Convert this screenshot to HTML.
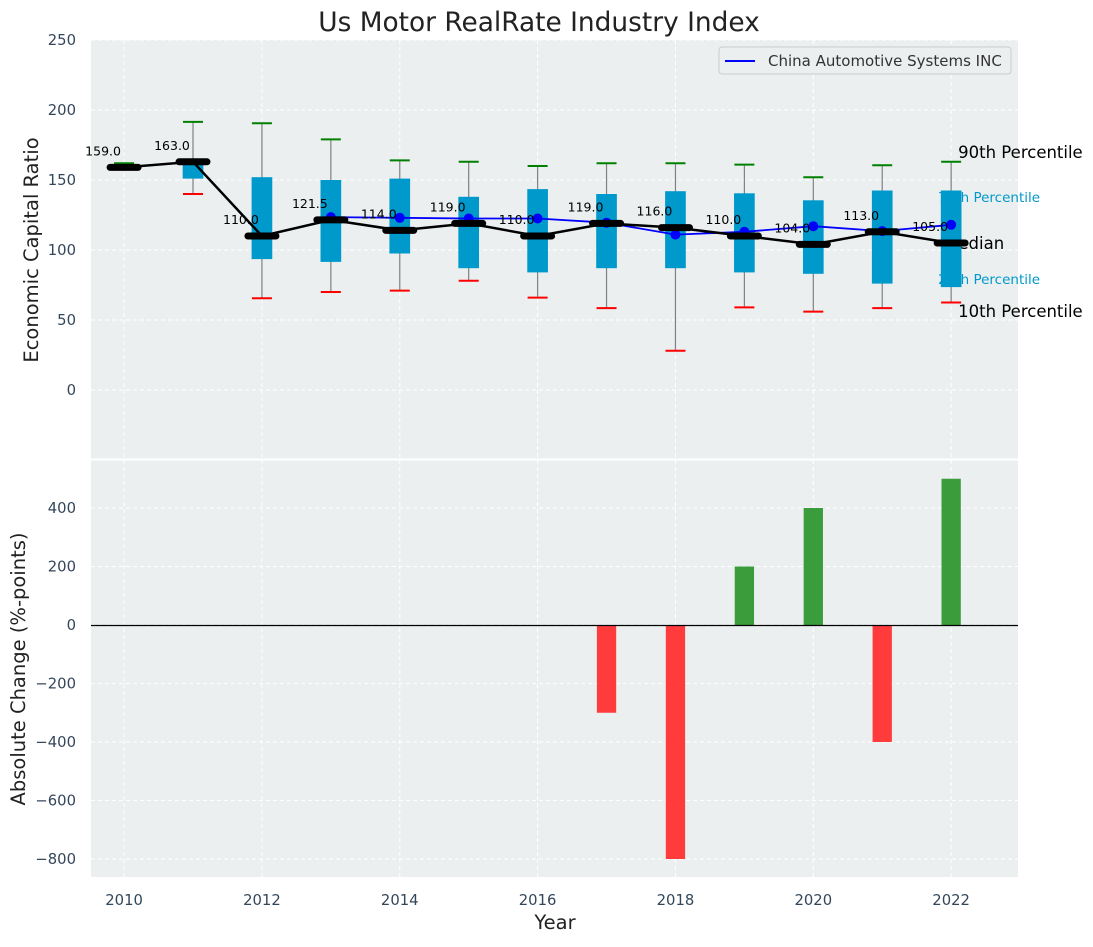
<!DOCTYPE html>
<html><head><meta charset="utf-8"><style>
body{margin:0;background:#fff;font-family:"Liberation Sans","DejaVu Sans",sans-serif}
</style></head><body>
<svg id="c" width="1093" height="942" xmlns="http://www.w3.org/2000/svg" font-family="DejaVu Sans, Liberation Sans, sans-serif"></svg>
<script>
const years=[2010,2011,2012,2013,2014,2015,2016,2017,2018,2019,2020,2021,2022];
const medians=[159,163,110,121.5,114,119,110,119,116,110,104,113,105];
const q1=[159,151,93.5,91.5,97.5,87,84,87,87,84,83,76,73.5];
const q3=[159,163,152,150,151,138,143.5,140,142,140.5,135.5,142.5,142.5];
const p10=[159,140,65.5,70,71,78,66,58.5,28,59,56,58.5,62.5];
const p90=[162,191.5,190.5,179,164,163,160,162,162,161,152,160.5,163];
const compYears=[2013,2014,2015,2016,2017,2018,2019,2020,2021,2022];
const compVals=[123.5,123,122.5,122.5,119.5,111,113,117,113.5,118];
const chgYears=[2017,2018,2019,2020,2021,2022];
const chgVals=[-300,-800,200,400,-400,500];
const topTicks=[0,50,100,150,200,250];
const botTicks=[-800,-600,-400,-200,0,200,400];
const xTicks=[2010,2012,2014,2016,2018,2020,2022];

const svg=document.getElementById('c');
const NS='http://www.w3.org/2000/svg';
function el(t,a,p){const e=document.createElementNS(NS,t);for(const k in a)e.setAttribute(k,a[k]);(p||svg).appendChild(e);return e;}
const L=91,R=1018;
const X=v=>L+(v-2009.52)*(R-L)/(2022.97-2009.52);
const Y1=v=>390-v*1.4;
const Y2=v=>625-v*0.2925;
const T1=40,B1=459,T2=460,B2=877;

const bg1=el('rect',{x:L,y:T1,width:R-L,height:B1-T1,fill:'#eceff0'});


const bg2=el('rect',{x:L,y:T2,width:R-L,height:B2-T2,fill:'#eceff0'});



xTicks.forEach(t=>{
  el('line',{x1:X(t),x2:X(t),y1:T1,y2:B1,stroke:'#fff','stroke-dasharray':'4,3'});
  el('line',{x1:X(t),x2:X(t),y1:T2,y2:B2,stroke:'#fff','stroke-dasharray':'4,3'});
  const tx=el('text',{x:X(t),y:905,'text-anchor':'middle','font-size':14.8,fill:'#34465a'});tx.textContent=t;
  
  
});
topTicks.forEach(t=>{
  el('line',{x1:L,x2:R,y1:Y1(t),y2:Y1(t),stroke:'#fff','stroke-dasharray':'4,3'});
  const tx=el('text',{x:76,y:Y1(t)+5,'text-anchor':'end','font-size':14.8,fill:'#34465a'});tx.textContent=t;
  
  
});
botTicks.forEach(t=>{
  el('line',{x1:L,x2:R,y1:Y2(t),y2:Y2(t),stroke:'#fff','stroke-dasharray':'4,3'});
  const tx=el('text',{x:76,y:Y2(t)+5,'text-anchor':'end','font-size':14.8,fill:'#34465a'});tx.textContent=(t<0?'\u2212'+(-t):t);
  
  
});

const xr=X(2022);
[['90th Percentile',158,16.5,'#000',xr+7],['75th Percentile',202,13.5,'#0099cc',xr-13],['Median',249,16.5,'#000',xr-7],['25th Percentile',284,13.5,'#0099cc',xr-13],['10th Percentile',317,16.5,'#000',xr+7]].forEach(d=>{
  const tx=el('text',{x:d[4],y:d[1],'font-size':d[2],fill:d[3]});tx.textContent=d[0];
  
  
});

const bw=X(2010.15)-X(2009.85);
years.forEach((yr,i)=>{
  const g=el('g',{});
  
  
  const x=X(yr);
  el('line',{x1:x,x2:x,y1:Y1(p90[i]),y2:Y1(p10[i]),stroke:'#808080','stroke-width':1.2},g);
  if(q3[i]>q1[i]) el('rect',{x:x-bw/2,y:Y1(q3[i]),width:bw,height:Y1(q1[i])-Y1(q3[i]),fill:'#0099cc'},g);
  el('line',{x1:x-10,x2:x+10,y1:Y1(p90[i]),y2:Y1(p90[i]),stroke:'green','stroke-width':2},g);
  el('line',{x1:x-10,x2:x+10,y1:Y1(p10[i]),y2:Y1(p10[i]),stroke:'red','stroke-width':2},g);
});

const cl=el('polyline',{points:compYears.map((y,i)=>X(y)+','+Y1(compVals[i])).join(' '),fill:'none',stroke:'blue','stroke-width':1.8});


compYears.forEach((y,i)=>{const c=el('circle',{cx:X(y),cy:Y1(compVals[i]),r:5,fill:'blue'});
  
  });

const ml=el('polyline',{points:years.map((y,i)=>X(y)+','+Y1(medians[i])).join(' '),fill:'none',stroke:'#000','stroke-width':2.5});


years.forEach((y,i)=>{
  const m=el('line',{x1:X(y)-14,x2:X(y)+14,y1:Y1(medians[i]),y2:Y1(medians[i]),stroke:'#000','stroke-width':7,'stroke-linecap':'round'});
  
  
  const t=el('text',{x:X(y)-21,y:Y1(medians[i])-12,'text-anchor':'middle','font-size':12.5,fill:'#000'});t.textContent=medians[i].toFixed(1);
  
  
});

const barw=X(2010.14)-X(2009.86);
chgYears.forEach((y,i)=>{
  const v=chgVals[i];
  const r=el('rect',{x:X(y)-barw/2,y:Math.min(Y2(v),Y2(0)),width:barw,height:Math.abs(Y2(v)-Y2(0)),fill:v>=0?'#3b9c3b':'#ff3b3b'});
  
  
});
el('line',{x1:L,x2:R,y1:Y2(0)+0.5,y2:Y2(0)+0.5,stroke:'#000','stroke-width':1.2});

el('line',{x1:L,x2:R,y1:459.5,y2:459.5,stroke:'#fff','stroke-width':2});

const lg=el('g',{});


el('rect',{x:719,y:47,width:292,height:27,rx:3,fill:'#eceff0',stroke:'#ccc'},lg);
el('line',{x1:725,x2:755,y1:61,y2:61,stroke:'blue','stroke-width':2},lg);
const lt=el('text',{x:768,y:66,'font-size':15,fill:'#333'},lg);lt.textContent='China Automotive Systems INC';

const tt=el('text',{x:539,y:31,'text-anchor':'middle','font-size':26.4,fill:'#222'});tt.textContent='Us Motor RealRate Industry Index';


const xl=el('text',{x:555,y:929,'text-anchor':'middle','font-size':19.5,fill:'#222'});xl.textContent='Year';


const y1=el('text',{x:0,y:0,'text-anchor':'middle','font-size':19.5,fill:'#222',transform:'translate(38,250) rotate(-90)'});y1.textContent='Economic Capital Ratio';


const y2=el('text',{x:0,y:0,'text-anchor':'middle','font-size':19.5,fill:'#222',transform:'translate(25,669) rotate(-90)'});y2.textContent='Absolute Change (%-points)';


</script>
</body></html>
